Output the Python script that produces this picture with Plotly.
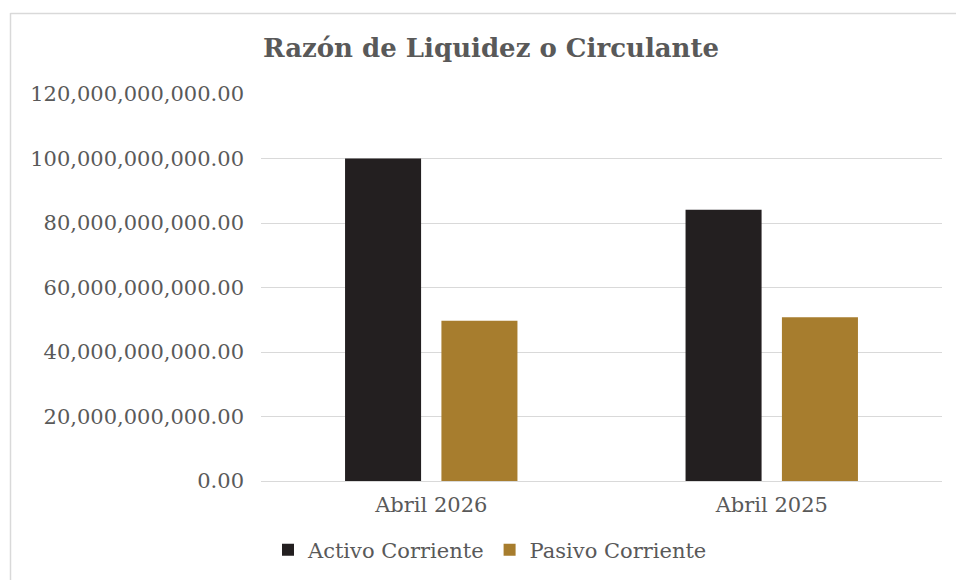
import plotly.graph_objects as go

categories = ["Abril 2026", "Abril 2025"]
activo_corriente = [100.0e9, 84.1e9]
pasivo_corriente = [49.7e9, 50.8e9]
y_ticks = [0, 20e9, 40e9, 60e9, 80e9, 100e9, 120e9]

W, H = 956, 580
L, R, T, B = 261, 14, 94, 99
pw, ph = W - L - R, H - T - B

font_family = "DejaVu Serif"
grey = "#595959"

fig = go.Figure()
fig.add_trace(go.Bar(name="Activo Corriente", x=categories, y=activo_corriente,
                     marker=dict(color="#231F20", line=dict(width=0))))
fig.add_trace(go.Bar(name="Pasivo Corriente", x=categories, y=pasivo_corriente,
                     marker=dict(color="#A77D2E", line=dict(width=0))))

def px_to_paper_x(px):
    return (px - L) / pw

def py_to_paper_y(py):
    return (H - B - py) / ph

fig.update_layout(
    width=W, height=H,
    margin=dict(l=L, r=R, t=T, b=B, autoexpand=False),
    paper_bgcolor="white", plot_bgcolor="white",
    barmode="group", bargap=0.434, bargroupgap=0.211,
    font=dict(family=font_family, color=grey, size=21),
    title=dict(text="<b>Razón de Liquidez o Circulante</b>",
               x=491 / W, xref="container", xanchor="center",
               y=1 - 48 / H, yref="container", yanchor="middle",
               font=dict(family=font_family, size=26, color=grey)),
    legend=dict(orientation="h", xref="container", yref="container",
                x=490 / W, xanchor="center", y=1 - 550 / H, yanchor="middle",
                font=dict(family=font_family, size=21, color=grey),
                itemwidth=30, traceorder="normal"),
    hovermode=False,
    showlegend=True,
)
fig.update_yaxes(range=[0, 120e9], tickvals=y_ticks, tickformat=",.2f",
                 showgrid=True, gridcolor="#D9D9D9", gridwidth=1.3,
                 zeroline=True, zerolinecolor="#D9D9D9", zerolinewidth=1.3,
                 showline=False, ticks="", ticklabelstandoff=16,
                 tickfont=dict(family=font_family, size=21, color=grey))
fig.update_xaxes(showline=False, ticks="", showgrid=False, ticklabelstandoff=9,
                 tickfont=dict(family=font_family, size=21, color=grey))

border = "#D9D9D9"
fig.add_shape(type="line", xref="paper", yref="paper",
              x0=px_to_paper_x(10.5), x1=px_to_paper_x(10.5),
              y0=py_to_paper_y(13), y1=py_to_paper_y(H + 5),
              line=dict(color=border, width=1.5))
fig.add_shape(type="line", xref="paper", yref="paper",
              x0=px_to_paper_x(10.5), x1=px_to_paper_x(W + 5),
              y0=py_to_paper_y(13.5), y1=py_to_paper_y(13.5),
              line=dict(color=border, width=1.5))

fig.write_html("out.html", config={"displayModeBar": False},
               post_script="document.body.style.margin='0';document.body.style.overflow='hidden';")
